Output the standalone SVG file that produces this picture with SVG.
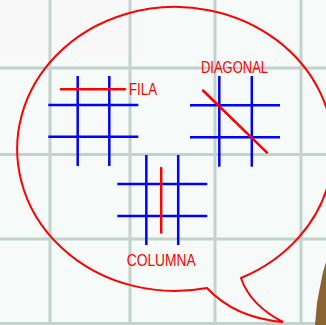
<svg xmlns="http://www.w3.org/2000/svg" width="326" height="325" viewBox="0 0 326 325">
  <style>
    .grid { stroke: #c2d3cd; stroke-width: 3; fill: none; }
    .blue { stroke: #0000ff; stroke-width: 2.5; fill: none; }
    .red { stroke: #ff0000; stroke-width: 2.5; fill: none; stroke-linecap: round; }
    .label { font-family: "Liberation Sans", Arial, sans-serif; font-size: 16px; fill: #ff0000; }
  </style>
  <rect width="326" height="325" fill="#f6fbf9"/>
  <rect x="0" y="0" width="140" height="55" fill="#fbf7f8" opacity="0.7"/>
  <g id="background-grid" class="grid">
    <line x1="50" y1="0" x2="50" y2="325"/>
    <line x1="130" y1="0" x2="130" y2="325"/>
    <line x1="215" y1="0" x2="215" y2="325"/>
    <line x1="301" y1="0" x2="301" y2="325"/>
    <line x1="0" y1="68" x2="326" y2="68"/>
    <line x1="0" y1="154.5" x2="326" y2="154.5"/>
    <line x1="0" y1="239" x2="326" y2="239"/>
    <line x1="0" y1="323.5" x2="326" y2="323.5"/>
  </g>
  <path id="figure" d="M326,262 L323,272 L321,282 L319,292 L317,303 L316,314 L315,325 L326,325 Z" fill="#8a6430"/>
  <g id="bubble">
    <path d="M241,278 A158,142 0 1 0 207,288 Q235,318 283,322 Q250,305 241,278 Z" fill="none" stroke="#ff0000" stroke-width="2"/>
  </g>
  <g id="grid-fila">
    <g class="blue">
      <line x1="77.7" y1="76" x2="77.7" y2="166"/>
      <line x1="109.3" y1="76" x2="109.3" y2="166"/>
      <line x1="48.3" y1="105" x2="138.3" y2="105"/>
      <line x1="48.3" y1="136.7" x2="138.3" y2="136.7"/>
    </g>
    <line class="red" x1="61" y1="89.3" x2="125" y2="89.3"/>
    <text class="label" x="129" y="95" textLength="28" lengthAdjust="spacingAndGlyphs">FILA</text>
  </g>
  <g id="grid-diagonal">
    <g class="blue">
      <line x1="219.3" y1="76" x2="219.3" y2="166.7"/>
      <line x1="251.8" y1="76" x2="251.8" y2="166.7"/>
      <line x1="190" y1="105.2" x2="280" y2="105.2"/>
      <line x1="190" y1="137.2" x2="280" y2="137.2"/>
    </g>
    <line class="red" x1="203" y1="90.5" x2="267" y2="152.7"/>
    <text class="label" x="201" y="72.7" textLength="67" lengthAdjust="spacingAndGlyphs">DIAGONAL</text>
  </g>
  <g id="grid-columna">
    <g class="blue">
      <line x1="146.3" y1="155" x2="146.3" y2="245"/>
      <line x1="178.2" y1="155" x2="178.2" y2="245"/>
      <line x1="117.3" y1="184" x2="207.3" y2="184"/>
      <line x1="117.3" y1="216" x2="207.3" y2="216"/>
    </g>
    <line class="red" x1="161.2" y1="168" x2="161.2" y2="232.5"/>
    <text class="label" x="126.7" y="266" textLength="69" lengthAdjust="spacingAndGlyphs">COLUMNA</text>
  </g>
</svg>
